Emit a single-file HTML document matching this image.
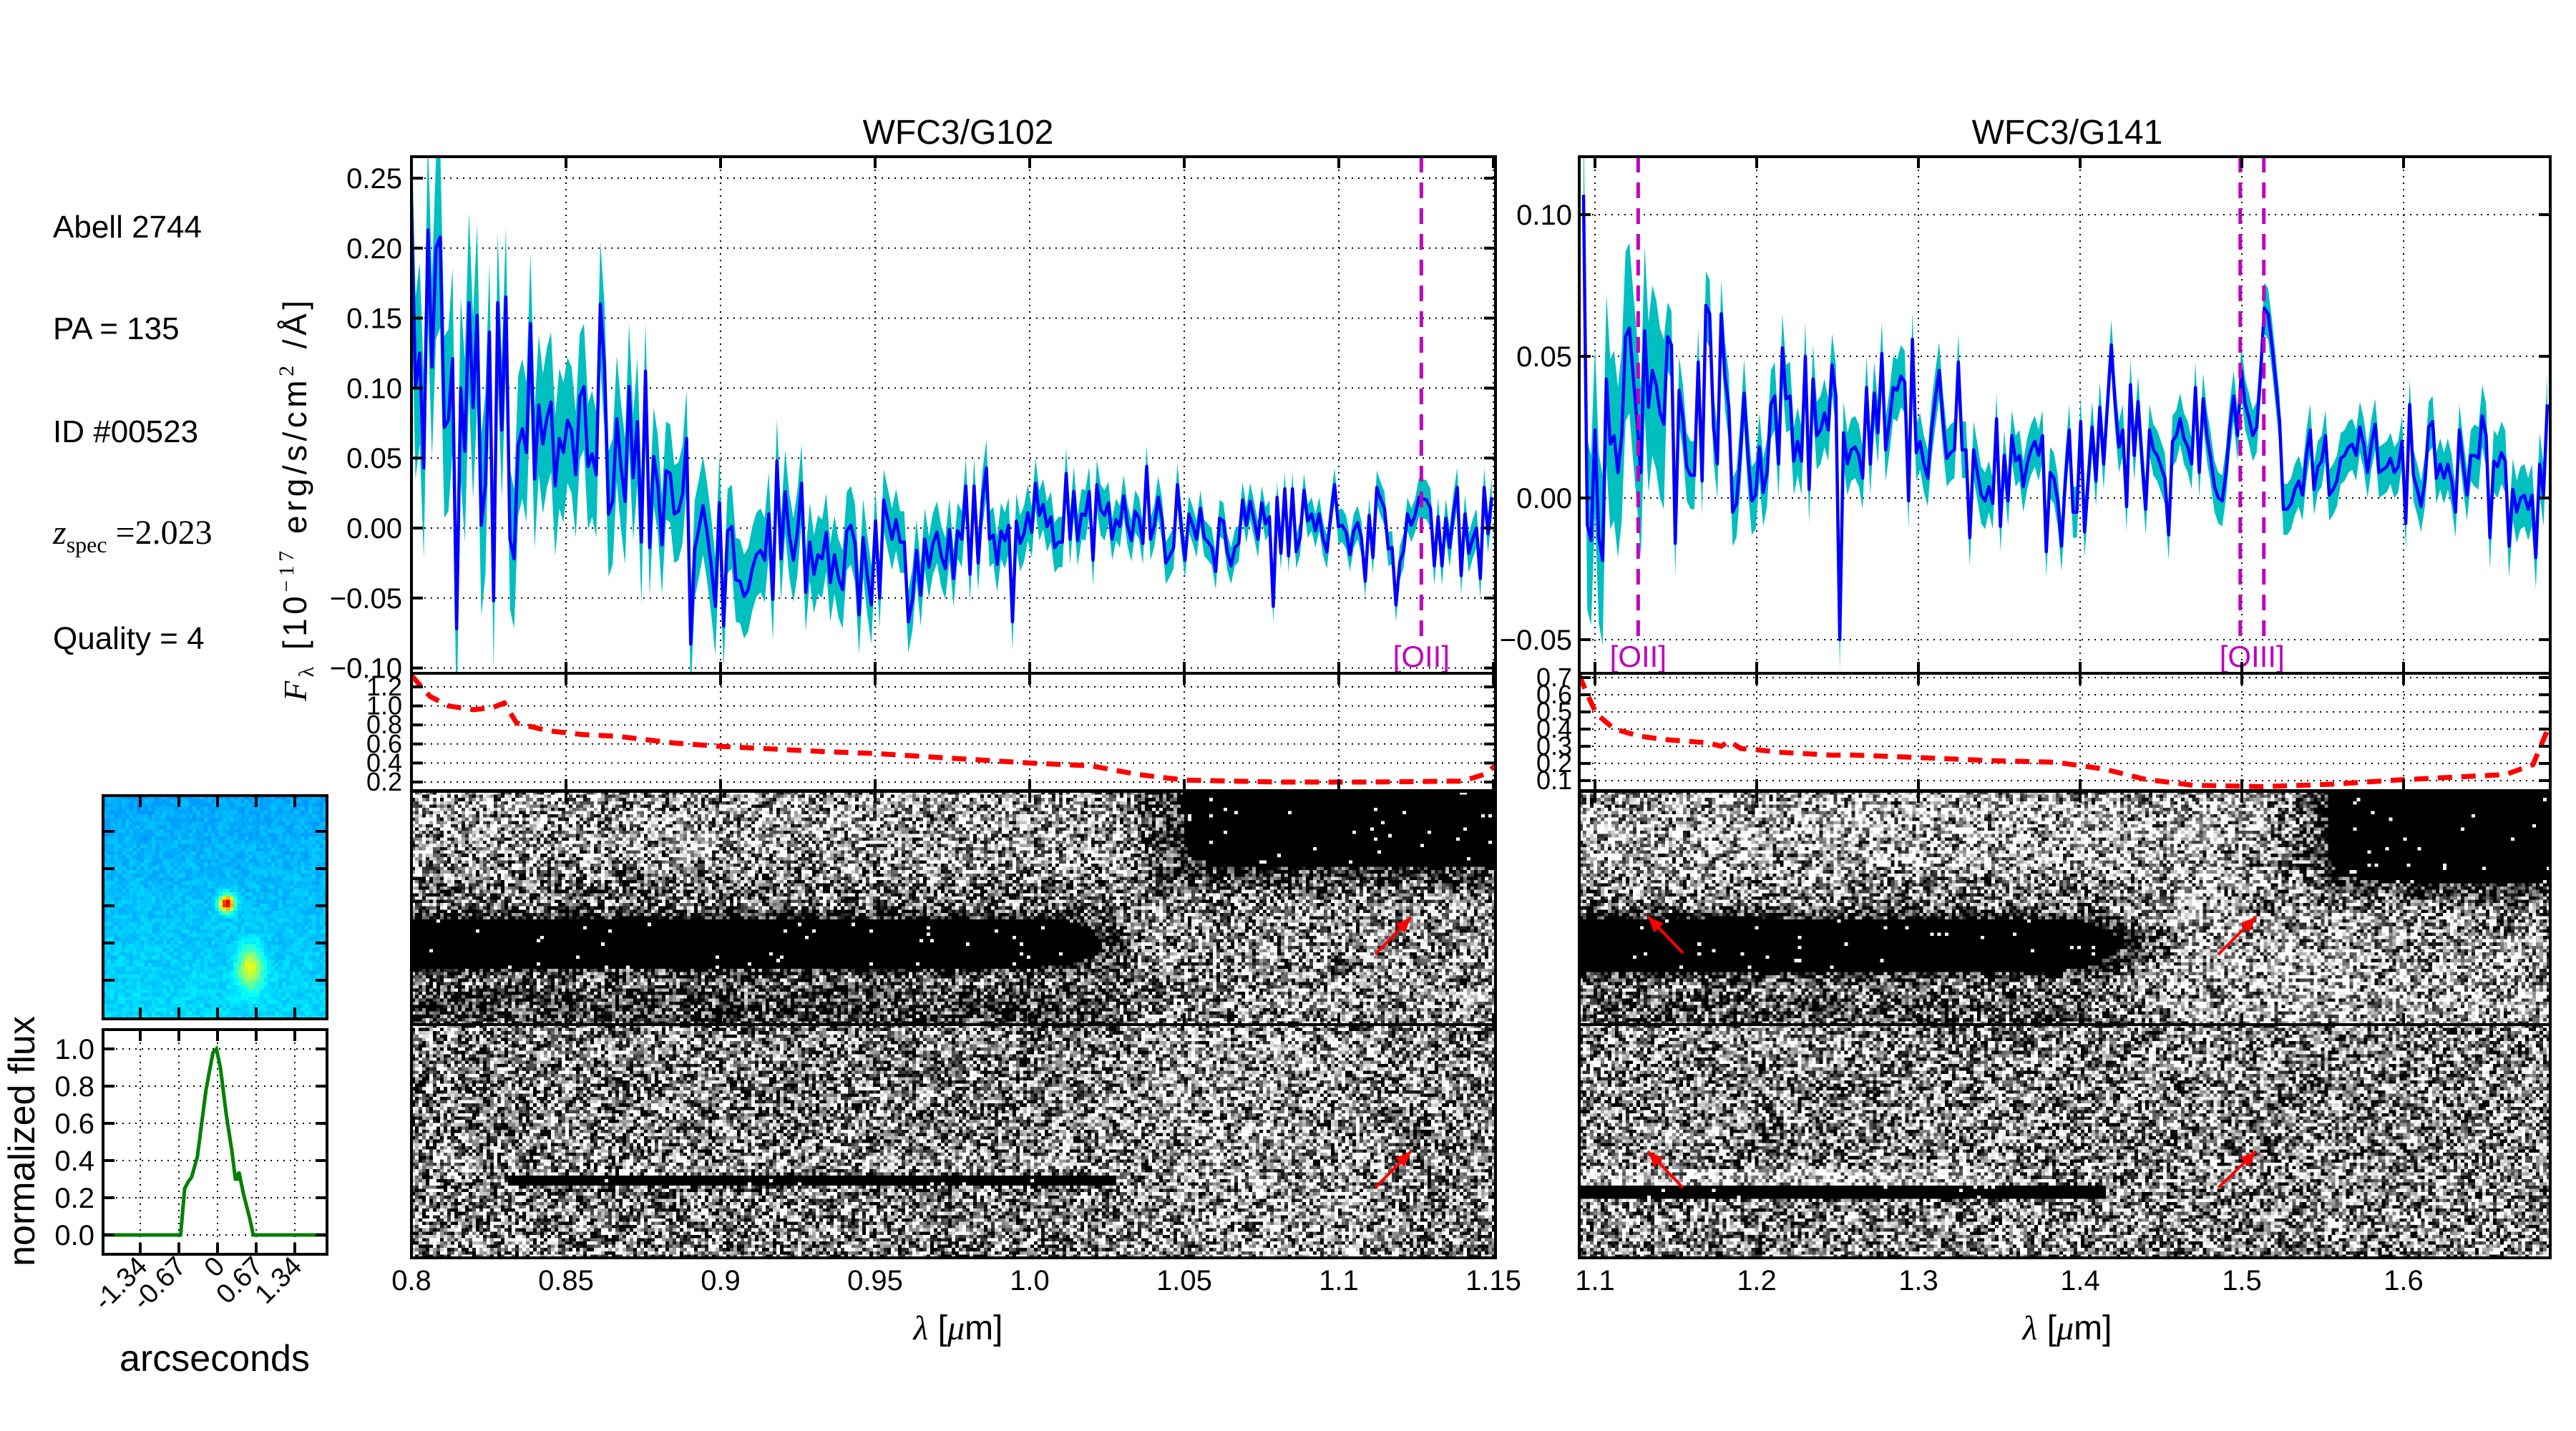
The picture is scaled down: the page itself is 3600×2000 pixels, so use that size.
<!DOCTYPE html>
<html><head><meta charset="utf-8">
<style>
html,body{margin:0;padding:0;background:#fff;}
#wrap{position:relative;width:3600px;height:2000px;overflow:hidden;background:#fff;}
canvas{position:absolute;image-rendering:pixelated;}
svg{position:absolute;left:0;top:0;}
text{font-family:"Liberation Sans",sans-serif;}
</style></head>
<body>
<div id="wrap">
<canvas id="c102u" style="left:575px;top:1106px;width:1515px;height:326px"></canvas>
<canvas id="c102l" style="left:575px;top:1432px;width:1515px;height:326px"></canvas>
<canvas id="c141u" style="left:2207px;top:1106px;width:1357px;height:326px"></canvas>
<canvas id="c141l" style="left:2207px;top:1432px;width:1357px;height:326px"></canvas>
<canvas id="stamp" style="left:144px;top:1112px;width:313px;height:312px"></canvas>
<svg id="svg" width="3600" height="2000" viewBox="0 0 3600 2000">
<defs>
<clipPath id="clip102"><rect x="575" y="219" width="1515" height="722"/></clipPath>
<clipPath id="clip141"><rect x="2207" y="219" width="1357" height="722"/></clipPath>
<clipPath id="clipr102"><rect x="575" y="941" width="1515" height="164"/></clipPath>
<clipPath id="clipr141"><rect x="2207" y="941" width="1357" height="164"/></clipPath>
<clipPath id="clipprof"><rect x="144" y="1439" width="313" height="314"/></clipPath>
</defs>
<g id="layer-grid"></g>
<g id="layer-data"></g>
<g id="layer-axes"></g>
<text x="74" y="332" font-size="44">Abell 2744</text>
<text x="74" y="474" font-size="44">PA = 135</text>
<text x="74" y="618" font-size="44">ID #00523</text>
<text x="74" y="760" font-size="48" style="font-family:'Liberation Serif',serif"><tspan font-style="italic">z</tspan><tspan font-size="32" dy="12">spec</tspan><tspan dy="-12"> =2.023</tspan></text>
<text x="74" y="907" font-size="44">Quality = 4</text>
<text x="1339" y="201" font-size="48" text-anchor="middle">WFC3/G102</text>
<text x="2889" y="201" font-size="48" text-anchor="middle">WFC3/G141</text>
<text transform="translate(428,700) rotate(-90)" font-size="46" text-anchor="middle" textLength="560"><tspan style="font-family:'Liberation Serif',serif" font-style="italic">F</tspan><tspan style="font-family:'Liberation Serif',serif" font-size="30" dy="10">λ</tspan><tspan dy="-10"> [10</tspan><tspan font-size="30" dy="-18" style="font-family:'Liberation Serif',serif">−17</tspan><tspan dy="18"> erg/s/cm</tspan><tspan font-size="30" dy="-18" style="font-family:'Liberation Serif',serif">2</tspan><tspan dy="18"> /Å]</tspan></text>
<text x="1339" y="1872" font-size="48" text-anchor="middle"><tspan style="font-family:'Liberation Serif',serif" font-style="italic">λ</tspan> [<tspan style="font-family:'Liberation Serif',serif" font-style="italic">μ</tspan>m]</text>
<text x="2889" y="1872" font-size="48" text-anchor="middle"><tspan style="font-family:'Liberation Serif',serif" font-style="italic">λ</tspan> [<tspan style="font-family:'Liberation Serif',serif" font-style="italic">μ</tspan>m]</text>
<text transform="translate(48,1595) rotate(-90)" font-size="52" text-anchor="middle">normalized flux</text>
<text x="300" y="1916" font-size="52" text-anchor="middle">arcseconds</text>
</svg>
</div>
<script>
// ---------------- data ----------------
const g102Flux = [0.231,0.10,0.125,0.043,0.213,0.115,0.2,0.208,0.072,0.077,0.121,-0.072,0.10,0.055,0.161,0.086,0.152,0.002,0.031,0.14,-0.052,0.161,0.07,0.165,-0.008,-0.022,0.059,0.071,0.054,0.146,0.035,0.088,0.06,0.079,0.09,0.03,0.064,0.054,0.077,0.07,0.038,0.094,0.101,0.044,0.053,0.038,0.16,0.115,0.01,0.019,0.078,0.045,0.019,0.101,0.036,0.076,-0.01,0.112,-0.014,0.051,0.031,-0.012,0.041,0.039,0.01,0.012,0.024,0.064,-0.083,-0.015,0,0.016,-0.003,-0.027,-0.056,0.018,-0.07,-0.002,0.001,-0.037,-0.038,-0.049,-0.044,-0.029,-0.019,-0.016,-0.023,0.01,-0.051,0.048,-0.022,0.026,-0.005,-0.023,-0.003,0.032,-0.046,-0.01,-0.033,-0.019,-0.022,-0.003,-0.039,-0.019,-0.036,-0.044,-0.002,0.002,-0.011,-0.062,-0.007,-0.034,-0.055,0.005,-0.05,0.02,0.006,-0.008,0.006,-0.01,-0.01,-0.067,-0.051,-0.016,-0.048,-0.008,-0.028,-0.011,-0.003,-0.02,-0.029,-0.001,-0.036,-0.002,-0.008,0.03,-0.033,0.03,-0.025,0.02,
0.043,-0.008,-0.005,-0.026,-0.002,-0.009,0.002,-0.067,0.005,-0.011,-0.004,0.011,-0.003,0.032,0.009,0.017,0.001,0.008,-0.014,-0.01,-0.01,0.039,-0.008,0.026,-0.009,0.01,0.009,0.026,-0.023,0.031,0.013,0.009,0.018,-0.008,0.006,0.001,0.023,0.002,-0.009,0.012,0.007,-0.011,0.044,-0.008,0.002,0.022,0.006,-0.025,-0.02,-0.014,0.031,0.001,-0.023,0.01,0.002,-0.008,0.014,-0.007,-0.01,-0.014,-0.031,0.007,0.005,-0.017,-0.027,-0.014,-0.011,0.02,0.002,0.019,0.006,-0.008,0.018,0.003,0.008,-0.056,0.022,-0.018,0.028,-0.02,0.028,-0.017,-0.007,0.027,0.005,0.01,-0.002,0.01,-0.008,-0.017,0.009,0.031,0.001,0.002,-0.003,-0.019,-0.002,0.004,-0.007,-0.038,0.009,-0.021,0.029,0.021,0.014,-0.015,-0.014,-0.055,-0.025,-0.016,0.01,0.002,0.009,0.022,0.021,0.02,0.014,-0.027,0.008,-0.027,0.007,-0.014,0.011,0.029,-0.034,0.01,-0.018,-0.008,0,-0.036,0.029,-0.004,0.022];
const g102Knots = [0.8, 0.986, 0.987, 1.1495];
const g102SplitIndex = 141;
const g102ErrBins = [0.065,0.05,0.045,0.035,0.03,0.028,0.022,0.02,0.018,0.015,0.013,0.012,0.012,0.014,0.014];
const g141Flux = [0.107,-0.0095,-0.015,0.024,-0.014,-0.022,0.042,0.019,0.022,0.009,0.022,0.057,0.06,0.043,0.027,0.009,0.059,0.032,0.045,0.04,0.03,0.026,0.057,0.054,-0.016,0.038,0.028,0.011,0.008,0.008,0.048,0.006,0.068,0.065,0.025,0.012,0.065,0.043,0.032,-0.005,-0.002,0.015,0.037,0.015,-0.001,0.001,0.018,0.002,0.009,0.033,0.036,0.012,0.053,0.035,0.036,0.013,0.02,0.013,0.05,0.003,0.042,0.022,0.024,0.03,0.024,0.047,0.036,-0.05,0.023,0.012,0.017,0.018,0.015,0.007,0.039,0.012,0.037,0.023,0.051,0.017,0.027,0.039,0.038,0.043,0.041,-0.001,0.056,0.016,0.02,0.012,0.007,0.024,0.035,0.045,0.027,0.014,0.016,0.017,0.048,0.017,0.017,-0.014,0.017,0.009,0.001,-0.001,0.004,-0.002,0.028,-0.01,0.015,-0.001,0.022,0.013,0.015,0.004,0.012,0.017,0.02,0.015,0.022,-0.019,0.009,0.007,-0.001,-0.017,0.007,0.024,-0.005,-0.005,0.027,-0.012,0.007,0.025,0.006,0.032,0.012,0.033,0.054,0.033,0.018,0.024,-0.003,0.04,0.015,0.034,0.014,-0.004,0.024,0.017,0.015,0.011,0.007,-0.013,0.02,0.022,0.028,0.021,0.018,0.012,0.039,0.009,0.035,0.022,0.014,0.004,0,-0.001,0.009,0.025,0.036,0.022,0.045,0.033,0.028,0.022,0.025,0.043,0.067,0.065,0.054,0.041,0.027,-0.004,-0.004,-0.002,0.003,0.006,0.001,0.015,0.024,0.003,0.011,0.013,0.022,0.001,0.003,0.006,0.014,0.015,0.018,0.019,0.015,0.025,0.019,0.009,0.019,0.026,0.009,0.01,0.011,0.014,0.009,0.011,0.02,-0.009,0.033,0.008,0.003,-0.003,0.006,0.025,0.027,0.007,0.012,0.007,0.012,0.006,-0.005,0.024,0.012,0.001,0.015,0.015,0.014,0.029,0.022,-0.014,0.013,0.011,0.016,0.013,-0.017,0.003,-0.005,0,0.001,-0.004,0.001,-0.021,0.012,0.001,0.033];
const g141Range = [1.0929, 1.6889];
const g141ErrBins = [0.03,0.012,0.012,0.011,0.01,0.009,0.009,0.009,0.009,0.009,0.009,0.011,0.014,0.016];
const sens102Lam = [0.8,0.806,0.812,0.82,0.826,0.83,0.834,0.844,0.855,0.867,0.885,0.9,0.933,0.95,0.975,1.0,1.02,1.035,1.05,1.08,1.11,1.14,1.147,1.151];
const sens102Val = [1.32,1.1,1.0,0.96,0.98,1.03,0.82,0.74,0.7,0.68,0.61,0.575,0.52,0.5,0.45,0.4,0.37,0.28,0.22,0.2,0.2,0.21,0.28,0.38];
const sens141Lam = [1.0903,1.095,1.101,1.112,1.127,1.142,1.17,1.178,1.183,1.19,1.2,1.213,1.247,1.256,1.299,1.342,1.385,1.398,1.415,1.44,1.47,1.513,1.556,1.599,1.663,1.68,1.6907];
const sens141Val = [0.713,0.607,0.487,0.401,0.36,0.34,0.32,0.3,0.33,0.287,0.28,0.266,0.248,0.25,0.235,0.217,0.207,0.19,0.167,0.108,0.073,0.065,0.079,0.105,0.135,0.193,0.433];
const profX = [-2.05,-0.64,-0.57,-0.5,-0.45,-0.35,-0.2,-0.08,-0.02,0.05,0.15,0.25,0.31,0.35,0.37,0.45,0.55,0.62,2.05];
const profY = [0,0,0.25,0.29,0.31,0.42,0.78,0.98,1.0,0.9,0.65,0.45,0.3,0.3,0.34,0.22,0.1,0,0];
const yTicks102 = [-0.10,-0.05,0.00,0.05,0.10,0.15,0.20,0.25];
const yTicks141 = [-0.05,0.00,0.05,0.10];
const xTicks102 = [0.8,0.85,0.9,0.95,1.0,1.05,1.1,1.15];
const xTickLabels102 = ["0.8","0.85","0.9","0.95","1.0","1.05","1.1","1.15"];
const xTicks141 = [1.1,1.2,1.3,1.4,1.5,1.6];
const xTickLabels141 = ["1.1","1.2","1.3","1.4","1.5","1.6"];
const sensTicks102 = [0.2,0.4,0.6,0.8,1.0,1.2];
const sensTicks141 = [0.1,0.2,0.3,0.4,0.5,0.6,0.7];
const profYTicks = [0.0,0.2,0.4,0.6,0.8,1.0];
const profXTicks = [-1.34,-0.67,0,0.67,1.34];
const profXTickLabels = ["-1.34","-0.67","0","0.67","1.34"];
const lines102 = [1.1267];
const lineLabels102 = ["[OII]"];
const lines141 = [1.1267,1.499,1.5136];
const lineLabels141 = [{x:1.1267,t:"[OII]"},{x:1.5063,t:"[OIII]"}];

// --------------- scales ---------------
const x102 = l => 575 + (l-0.8)*4320;
const y102 = v => 738 - v*1956;
const ys102 = v => 1093 - (v-0.2)*133;
const x141 = l => 2229 + (l-1.1)*2260;
const y141 = v => 696 - v*3960;
const ys141 = v => 1091 - (v-0.1)*240;
const xp = a => 304 + a*80.6;
const yp = v => 1726 - v*260;

const NS='http://www.w3.org/2000/svg';
const gGrid=document.getElementById('layer-grid');
const gData=document.getElementById('layer-data');
const gAx=document.getElementById('layer-axes');
function mk(tag,attrs,parent){const e=document.createElementNS(NS,tag);for(const k in attrs)e.setAttribute(k,attrs[k]);parent.appendChild(e);return e;}

// ---------------- grids ----------------
function gridV(xs,xf,y0,y1,name){for(const t of xs){const e=mk('line',{x1:xf(t),x2:xf(t),y1:y0,y2:y1,stroke:'#000','stroke-width':2,'stroke-dasharray':'2,7'},gGrid);

}}
function gridH(vs,yf,x0,x1,name){for(const t of vs){const e=mk('line',{x1:x0,x2:x1,y1:yf(t),y2:yf(t),stroke:'#000','stroke-width':2,'stroke-dasharray':'2,7'},gGrid);

}}
gridV(xTicks102,x102,219,1105,'g102-x-gridline');
gridH(yTicks102,y102,575,2090,'g102-y-gridline');
gridH(sensTicks102,ys102,575,2090,'g102-sens-gridline');
gridV(xTicks141,x141,219,1105,'g141-x-gridline');
gridH(yTicks141,y141,2207,3564,'g141-y-gridline');
gridH(sensTicks141,ys141,2207,3564,'g141-sens-gridline');
gridV(profXTicks,xp,1439,1753,'profile-x-gridline');
gridH(profYTicks,yp,144,457,'profile-y-gridline');

// ---------------- spectra ----------------
function spectrum(flux,lam,errBins,binW,xf,yf,clip,tag){
  const n=flux.length, l0=lam[0];
  const err=lam.map(l=>errBins[Math.min(errBins.length-1,Math.max(0,Math.floor((l-l0)/binW)))]);
  let up='',lo='';
  for(let i=0;i<n;i++){up+=(i?'L':'M')+xf(lam[i]).toFixed(1)+','+yf(flux[i]+err[i]).toFixed(1);}
  for(let i=n-1;i>=0;i--){lo+='L'+xf(lam[i]).toFixed(1)+','+yf(flux[i]-err[i]).toFixed(1);}
  const band=mk('path',{d:up+lo+'Z',fill:'#00bfbf',stroke:'none','clip-path':'url(#'+clip+')'},gData);
  
  
  let d='';for(let i=0;i<n;i++)d+=(i?'L':'M')+xf(lam[i]).toFixed(1)+','+yf(flux[i]).toFixed(1);
  const ln=mk('path',{d:d,fill:'none',stroke:'#0000ff','stroke-width':4.5,'stroke-linejoin':'round','clip-path':'url(#'+clip+')'},gData);
  
  
}
const lam102 = g102Flux.map((_,i)=> i<g102SplitIndex
  ? g102Knots[0]+i*(g102Knots[1]-g102Knots[0])/(g102SplitIndex-1)
  : g102Knots[2]+(i-g102SplitIndex)*(g102Knots[3]-g102Knots[2])/(g102Flux.length-1-g102SplitIndex));
const lam141 = g141Flux.map((_,i)=> g141Range[0]+i*(g141Range[1]-g141Range[0])/(g141Flux.length-1));
spectrum(g102Flux,lam102,g102ErrBins,0.025,x102,y102,'clip102','g102');
spectrum(g141Flux,lam141,g141ErrBins,0.05,x141,y141,'clip141','g141');

function sens(lam,val,xf,yf,clip,tag){let d='';for(let i=0;i<lam.length;i++)d+=(i?'L':'M')+xf(lam[i]).toFixed(1)+','+yf(val[i]).toFixed(1);
  const e=mk('path',{d:d,fill:'none',stroke:'#ff0000','stroke-width':7,'stroke-dasharray':'20,13','clip-path':'url(#'+clip+')'},gData);
  
  }
sens(sens102Lam,sens102Val,x102,ys102,'clipr102','g102');
sens(sens141Lam,sens141Val,x141,ys141,'clipr141','g141');

// emission lines
for(const l of lines102){const e=mk('line',{x1:x102(l),x2:x102(l),y1:219,y2:896,stroke:'#bf00bf','stroke-width':5,'stroke-dasharray':'22,14'},gData);

}
for(const l of lines141){const e=mk('line',{x1:x141(l),x2:x141(l),y1:219,y2:896,stroke:'#bf00bf','stroke-width':5,'stroke-dasharray':'22,14'},gData);

}
{const t=mk('text',{x:x102(lines102[0]),y:932,'font-size':42,fill:'#bf00bf','text-anchor':'middle'},gData);t.textContent=lineLabels102[0];

}
for(const o of lineLabels141){const t=mk('text',{x:x141(o.x),y:932,'font-size':42,fill:'#bf00bf','text-anchor':'middle'},gData);t.textContent=o.t;

}

// profile
{let d='';for(let i=0;i<profX.length;i++)d+=(i?'L':'M')+xp(profX[i]).toFixed(1)+','+yp(profY[i]).toFixed(1);
const e=mk('path',{d:d,fill:'none',stroke:'#008000','stroke-width':5,'clip-path':'url(#clipprof)'},gData);

}

// ---------------- axes frames & ticks ----------------
function frame(x,y,w,h,name){const e=mk('rect',{x:x,y:y,width:w,height:h,fill:'none',stroke:'#000','stroke-width':4},gAx);

}
frame(575,219,1515,722,'g102-spectrum-axes');
frame(575,941,1515,164,'g102-sensitivity-axes');
frame(575,1106,1515,326,'g102-2d-axes');
frame(575,1432,1515,326,'g102-2d-lower-axes');
frame(2207,219,1357,722,'g141-spectrum-axes');
frame(2207,941,1357,164,'g141-sensitivity-axes');
frame(2207,1106,1357,326,'g141-2d-axes');
frame(2207,1432,1357,326,'g141-2d-lower-axes');
frame(144,1112,313,312,'stamp-axes');
frame(144,1439,313,314,'profile-axes');

function tickX(xs,xf,y0,y1,name){for(const t of xs){
 const a=mk('line',{x1:xf(t),x2:xf(t),y1:y0,y2:y0+16,stroke:'#000','stroke-width':4},gAx);
 
 
 const b=mk('line',{x1:xf(t),x2:xf(t),y1:y1,y2:y1-16,stroke:'#000','stroke-width':4},gAx);
 
 }}
function tickY(vs,yf,x0,x1,name){for(const t of vs){
 const a=mk('line',{x1:x0,x2:x0+16,y1:yf(t),y2:yf(t),stroke:'#000','stroke-width':4},gAx);
 
 
 const b=mk('line',{x1:x1,x2:x1-16,y1:yf(t),y2:yf(t),stroke:'#000','stroke-width':4},gAx);
 
 }}
tickX(xTicks102,x102,219,941,'g102-x-tick');
tickX(xTicks102,x102,941,1105,'g102-sens-x-tick');
tickX(xTicks102,x102,1106,1432,'g102-2d-x-tick');
tickY(yTicks102,y102,575,2090,'g102-y-tick');
tickY(sensTicks102,ys102,575,2090,'g102-sens-y-tick');
tickX(xTicks141,x141,219,941,'g141-x-tick');
tickX(xTicks141,x141,941,1105,'g141-sens-x-tick');
tickX(xTicks141,x141,1106,1432,'g141-2d-x-tick');
tickY(yTicks141,y141,2207,3564,'g141-y-tick');
tickY(sensTicks141,ys141,2207,3564,'g141-sens-y-tick');
tickX(profXTicks,xp,1112,1424,'stamp-x-tick');
tickY([1162,1214,1266,1318,1370],v=>v,144,457,'stamp-y-tick');
tickX(profXTicks,xp,1439,1753,'profile-x-tick');
tickY(profYTicks,yp,144,457,'profile-y-tick');

function lab(txt,x,y,size,anchor,name){const t=mk('text',{x:x,y:y,'font-size':size,'text-anchor':anchor},gAx);t.textContent=txt;

return t;}
for(const t of yTicks102)lab(t.toFixed(2).replace('-','−'),562,y102(t)+14,40,'end','g102-y-tick-label');
for(const t of yTicks141)lab(t.toFixed(2).replace('-','−'),2197,y141(t)+14,40,'end','g141-y-tick-label');
for(const t of sensTicks102)lab(t.toFixed(1),562,ys102(t)+12,36,'end','g102-sens-tick-label');
for(const t of sensTicks141)lab(t.toFixed(1),2197,ys141(t)+12,36,'end','g141-sens-tick-label');
xTicks102.forEach((t,i)=>lab(xTickLabels102[i],x102(t),1803,40,'middle','g102-x-tick-label'));
xTicks141.forEach((t,i)=>lab(xTickLabels141[i],x141(t),1803,40,'middle','g141-x-tick-label'));
for(const t of profYTicks)lab(t.toFixed(1),132,yp(t)+14,40,'end','profile-y-tick-label');
profXTicks.forEach((t,i)=>{const e=lab(profXTickLabels[i],0,0,38,'end','profile-x-tick-label');e.setAttribute('transform','translate('+(xp(t)+12)+',1772) rotate(-45)');});

// arrows
function arrow(x0,y0,x1,y1){const e=mk('line',{x1:x0,y1:y0,x2:x1,y2:y1,stroke:'#ff0000','stroke-width':4},gData);


const a=Math.atan2(y1-y0,x1-x0),L=22,W=9;
const p=[[x1,y1],[x1-L*Math.cos(a)+W*Math.sin(a),y1-L*Math.sin(a)-W*Math.cos(a)],[x1-L*Math.cos(a)-W*Math.sin(a),y1-L*Math.sin(a)+W*Math.cos(a)]];
const h=mk('polygon',{points:p.map(q=>q.join(',')).join(' '),fill:'#ff0000'},gData);

}
arrow(1922,1334,1972,1282);arrow(1922,1660,1972,1609);
arrow(2352,1332,2303,1281);arrow(2352,1660,2303,1609);
arrow(3100,1334,3153,1281);arrow(3100,1660,3153,1609);

// ---------------- 2D images (noise textures) ----------------
let seed=12345;function rnd(){seed|=0;seed=seed+0x6D2B79F5|0;let t=Math.imul(seed^seed>>>15,1|seed);t=t+Math.imul(t^t>>>7,61|t)^t;return((t^t>>>14)>>>0)/4294967296;}
const sg=(t,w)=>1/(1+Math.exp(-t/w));
function paint(id,x0,y0,w,h,dark){const cv=document.getElementById(id);const cw=Math.round(w/5),ch=Math.round(h/4.6);cv.width=cw;cv.height=ch;
const ctx=cv.getContext('2d');const im=ctx.createImageData(cw,ch);
for(let j=0;j<ch;j++)for(let i=0;i<cw;i++){const x=x0+(i+0.5)*w/cw,y=y0+(j+0.5)*h/ch;const d=dark(x,y);const r=rnd();let b;
 if(d>=0.97)b=r>0.985?1:0;else b=Math.max(0,Math.min(1,1-d+(r-0.5)*1.5));
 const k=(j*cw+i)*4,c=Math.round(b*255);im.data[k]=im.data[k+1]=im.data[k+2]=c;im.data[k+3]=255;}
ctx.putImageData(im,0,0);}
paint('c102u',575,1106,1515,326,(x,y)=>{
 let d=0.33+0.08*sg(y-1230,20);
 const band=sg(52-Math.abs(y-1318),7)*sg(1605-Math.abs(y-1318)*0.9-x,25);
 const below=sg(y-1372,8)*sg(1570-x,40)*0.42;
 const above=sg(y-1225,10)*sg(1262-y,6)*sg(1590-x,40)*0.25;
 d=d+below+above;
 const tr=sg(x-1600,25)*sg(1240-y,14);
 d=Math.max(d,0.3+0.75*tr,1.05*band);
 return Math.min(d,1);});
paint('c102l',575,1432,1515,326,(x,y)=>{let d=0.5-0.15*sg(x-1560,40)*sg(1950-x,40);
 if(y>1641&&y<1655&&x>710&&x<1560)d=1;else if(y>1615&&y<1640&&x<1560)d=0.38;
 d=Math.max(d,0.9*Math.exp(-((x-1985)**2+(y-1585)**2)/500));return d;});
paint('c141u',2207,1106,1357,326,(x,y)=>{
 let d=0.25;
 const band=sg(55-Math.abs(y-1321),7)*sg(3045-Math.abs(y-1320)*1.2-x,30);
 const below=sg(y-1377,8)*sg(2990-x,40)*0.45;
 const above=sg(y-1232,10)*sg(1265-y,6)*sg(3040-x,40)*0.3;
 d=d+below+above;
 const tr=sg(x-3230,30)*sg(1240-y,14);
 d=Math.max(d,0.25+0.8*tr+0.25*sg(x-3210,40)*sg(1300-y,20),1.05*band);
 d=Math.max(d,0.95*Math.exp(-((x-3165)**2+(y-1265)**2)/300));
 return Math.min(d,1);});
paint('c141l',2207,1432,1357,326,(x,y)=>{let d=0.45;
 if(y>1658&&y<1674&&x<2941)d=1;else if(y>1636&&y<1656&&x<2800)d=0.1;
 d=Math.max(d,0.95*Math.exp(-((x-3165)**2+(y-1595)**2)/450));return d;});

// stamp
(function(){const cv=document.getElementById('stamp');const cw=60,ch=60;cv.width=cw;cv.height=ch;const ctx=cv.getContext('2d');const im=ctx.createImageData(cw,ch);
function jet(v){v=Math.max(0,Math.min(1,v));const r=Math.max(0,Math.min(1,1.5-Math.abs(4*v-3))),g=Math.max(0,Math.min(1,1.5-Math.abs(4*v-2))),b=Math.max(0,Math.min(1,1.5-Math.abs(4*v-1)));return[r*255,g*255,b*255];}
for(let j=0;j<ch;j++)for(let i=0;i<cw;i++){const x=144+(i+0.5)*313/cw,y=1112+(j+0.5)*312/ch;
 let v=0.29+0.05*(y-1112)/312+(rnd()-0.5)*0.05;
 v+=0.62*Math.exp(-(((x-317)/10)**2+((y-1263)/11)**2));
 v+=0.28*Math.exp(-(((x-350)/17)**2+((y-1353)/28)**2));
 const c=jet(v),k=(j*cw+i)*4;im.data[k]=c[0];im.data[k+1]=c[1];im.data[k+2]=c[2];im.data[k+3]=255;}
ctx.putImageData(im,0,0);})();
</script>
</body></html>
